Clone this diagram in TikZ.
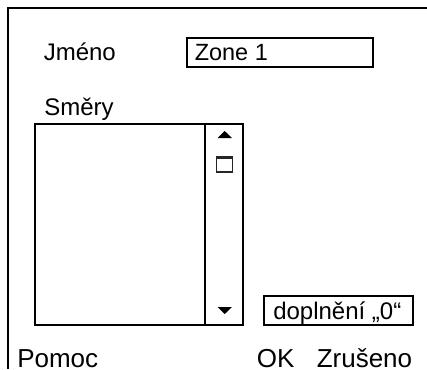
\documentclass[tikz,border=0pt]{standalone}
\usepackage{fontspec}
\setmainfont{Liberation Sans}
\tikzset{
  px/.style={x=0.75pt,y=-0.75pt},
  ln/.style={line width=1.8pt,draw=black},
  lab/.style={inner sep=0pt,anchor=base west,font=\fontsize{18}{20}\selectfont,text=black},
  big/.style={lab,font=\fontsize{19.5}{22}\selectfont},
  tip/.style={fill=black,draw=none},
}
\begin{document}
\begin{tikzpicture}[px]
\useasboundingbox (0,0) rectangle (427,369);
\fill[white] (0,0) rectangle (427,369);
\coordinate (ftr) at (427,8);
\coordinate (ftl) at (8,8);
\coordinate (fbl) at (8,369);
\draw[ln] (ftr) -- (ftl) -- (fbl);
\node[ln,minimum width=186*0.75pt,minimum height=29*0.75pt,inner sep=0pt,anchor=north west] (namebox) at (186,37) {};
\node[lab] (jmeno) at (43.5,60) {Jméno};
\node[lab,font=\fontsize{17.6}{20}\selectfont] (zone) at (194.5,60) {Zone 1};
\node[lab] (smery) at (44,115.5) {Směry};
\draw[ln] (35,124) rectangle (243,325);
\draw[ln] (205,124) -- (205,325);
\fill[tip] (217.5,138) -- (232,138) -- (224.7,131) -- cycle;
\draw[line width=1pt,black!85] (216.5,157) rectangle (232.5,172);
\draw[line width=1.6pt,black!85] (216.5,157.5) -- (232.5,157.5);
\fill[tip] (217.5,307) -- (232,307) -- (224.7,314) -- cycle;
\draw[ln] (264,296) rectangle (413,325);
\node[lab] (dopl) at (273,319) {doplnění „0“};
\node[big] (pomoc) at (17,367) {Pomoc};
\node[big] (ok) at (256.5,367) {OK};
\node[big] (zruseno) at (316.5,367) {Zrušeno};
\end{tikzpicture}
\end{document}
